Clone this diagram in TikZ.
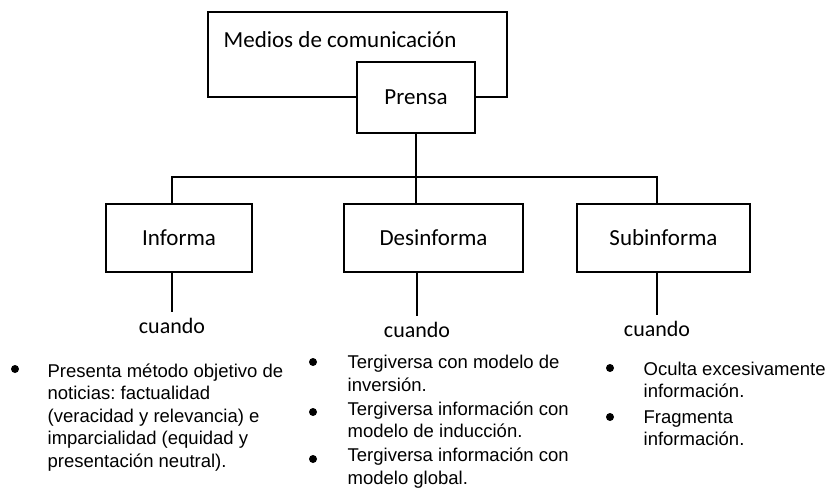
\documentclass[tikz,border=0pt]{standalone}
\usepackage{fontspec}
\setmainfont{Carlito}
\newfontfamily\arialfont{Liberation Sans}
\frenchspacing
\begin{document}
\begin{tikzpicture}[x=1bp,y=-1bp,line width=1.3bp,
    box/.style={draw=black,fill=white,inner sep=0pt,font=\fontsize{23bp}{27bp}\selectfont},
    lbl/.style={inner sep=0pt,font=\fontsize{22bp}{26bp}\selectfont},
    item/.style={inner sep=0pt,align=left,anchor=base west,font=\arialfont\fontsize{18.5bp}{22.5bp}\selectfont},
    dot/.style={circle,fill=black,inner sep=0pt,minimum size=8bp}]
            \useasboundingbox (0,0) rectangle (830,492);
            \node [box,minimum width=299bp,minimum height=85bp] (medios) at (357.5,54.5) {};
            \node [lbl,anchor=base west,font=\fontsize{23bp}{27bp}\selectfont] (mediostxt) at (223,48) {Medios de comunicación};
            \node [box,minimum width=118bp,minimum height=71bp] (prensa) at (416,97.5) {Prensa};
            \node [box,minimum width=146bp,minimum height=68bp] (informa) at (179,238) {Informa};
            \node [box,minimum width=179bp,minimum height=68bp] (desinforma) at (433.5,238) {Desinforma};
            \node [box,minimum width=173bp,minimum height=68bp] (subinforma) at (663.5,238) {Subinforma};
            \node [lbl,anchor=base] (cuando1) at (172,333) {cuando};
            \node [lbl,anchor=base] (cuando2) at (417,337) {cuando};
            \node [lbl,anchor=base] (cuando3) at (657,336) {cuando};
            \coordinate (bus) at (416,177);
            \draw [black] (prensa.south) -- (prensa.south |- desinforma.north);
            \draw [black] (cuando1 |- informa.north) |- (bus) -| (cuando3 |- subinforma.north);
            \draw [black] (cuando1 |- informa.south) -- ([yshift=5bp]cuando1.north);
            \draw [black] (cuando2 |- desinforma.south) -- ([yshift=5bp]cuando2.north);
            \draw [black] (cuando3 |- subinforma.south) -- ([yshift=5bp]cuando3.north);
            % multi-line nodes sit on the baseline of their last line
            \node [dot] (dot1) at (15,369) {};
            \node [item] (inf1) at (47,467) {Presenta método objetivo de\\noticias: factualidad\\(veracidad y relevancia) e\\imparcialidad (equidad y\\presentación neutral).};
            \node [dot] (dot2) at (313,362) {};
            \node [item] (des1) at (347,391) {Tergiversa con modelo de\\inversión.};
            \node [dot] (dot3) at (313,412) {};
            \node [item] (des2) at (347,437.5) {Tergiversa información con\\modelo de inducción.};
            \node [dot] (dot4) at (313,459) {};
            \node [item] (des3) at (347,484) {Tergiversa información con\\modelo global.};
            \node [dot] (dot5) at (610,368) {};
            \node [item] (sub1) at (643,397.5) {Oculta excesivamente\\información.};
            \node [dot] (dot6) at (610,417) {};
            \node [item] (sub2) at (643,445.5) {Fragmenta\\información.};
\end{tikzpicture}
\end{document}
